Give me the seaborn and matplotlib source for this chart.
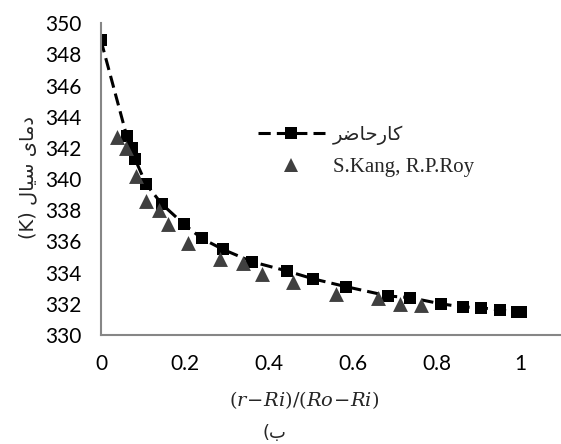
import pandas as pd
import seaborn as sns
import matplotlib
matplotlib.use("Agg")
import matplotlib.pyplot as plt
from matplotlib.lines import Line2D
from matplotlib.ticker import MultipleLocator

# present work (squares + dashed curve)
x_present = [0.0, 0.061, 0.073, 0.081, 0.107, 0.145, 0.198, 0.240, 0.290, 0.360,
             0.444, 0.506, 0.584, 0.685, 0.736, 0.810, 0.862, 0.905, 0.951, 0.990, 1.0]
t_present = [348.9, 342.8, 342.0, 341.3, 339.7, 338.4, 337.1, 336.2, 335.5, 334.7,
             334.1, 333.6, 333.1, 332.5, 332.4, 332.0, 331.8, 331.75, 331.6, 331.5, 331.5]

# S.Kang, R.P.Roy (triangles)
x_kang = [0.037, 0.059, 0.083, 0.107, 0.138, 0.160, 0.208, 0.284, 0.339, 0.383,
          0.458, 0.560, 0.659, 0.712, 0.762]
t_kang = [342.7, 342.0, 340.2, 338.6, 338.0, 337.1, 335.9, 334.9, 334.6, 333.9,
          333.4, 332.6, 332.4, 332.0, 331.9]

x_ticks = [0, 0.2, 0.4, 0.6, 0.8, 1.0]
x_ticklabels = ["0", "0.2", "0.4", "0.6", "0.8", "1"]
y_ticks = list(range(330, 351, 2))

# Persian labels written in visual order with Arabic presentation forms
label_present = "\ufeae\ufebf\ufe8e\ufea3\ufead\ufe8e\ufb90"          # کارحاضر
label_kang = "S.Kang, R.P.Roy"
ylabel_text = "(K) \ufedd\ufe8e\ufef4\ufeb3 \ufeef\ufe8e\ufee3\ufea9"  # دمای سیال (K)
caption_text = "(\ufe8f"                                            # ب)

df_present = pd.DataFrame({"x": x_present, "T": t_present})
df_kang = pd.DataFrame({"x": x_kang, "T": t_kang})

sns.set_style("white")
plt.rcParams["font.family"] = ["Lato", "DejaVu Sans"]
plt.rcParams["mathtext.fontset"] = "dejavuserif"

fig = plt.figure(figsize=(5.61, 4.44), dpi=100)
ax = fig.add_axes([0.180, 0.2455, 0.82, 0.702])

sns.lineplot(data=df_present, x="x", y="T", ax=ax, color="black", linewidth=2.2,
             linestyle=(0, (4, 2)), marker="s", markersize=8, markeredgewidth=0,
             sort=True, estimator=None, legend=False)
sns.scatterplot(data=df_kang, x="x", y="T", ax=ax, color="#404040", marker="^",
                s=115, linewidth=0, legend=False, zorder=3)

ax.set_xlim(0, 1.096)
ax.set_ylim(330, 350)
ax.set_xticks(x_ticks)
ax.set_xticklabels(x_ticklabels)
ax.set_yticks(y_ticks)
ax.xaxis.set_minor_locator(MultipleLocator(0.04))
ax.yaxis.set_minor_locator(MultipleLocator(0.4))

for side in ["top", "right"]:
    ax.spines[side].set_visible(False)
for side in ["left", "bottom"]:
    ax.spines[side].set_color("#868686")
    ax.spines[side].set_linewidth(1.5)

ax.tick_params(which="both", direction="in", color="#868686", width=1.3,
               labelsize=15, labelcolor="black")
ax.tick_params(which="major", length=6, pad=14)
ax.tick_params(which="minor", length=4)
ax.set_xlabel("")
ax.set_ylabel("")

fig.text(0.542, 0.1, r"$(r\!-\!Ri)/(Ro\!-\!Ri)$", fontsize=14, ha="center", va="center")
fig.text(0.05, 0.60, ylabel_text, rotation=90, fontsize=14, ha="center", va="center",
         family=["DejaVu Sans"])
fig.text(0.49, 0.025, caption_text, fontsize=13, ha="center", va="center",
         family=["DejaVu Sans"])

handles = [
    Line2D([], [], color="black", linewidth=2.2, linestyle=(0, (4, 2)),
           marker="s", markersize=8, markeredgewidth=0),
    Line2D([], [], color="#404040", linestyle="none", marker="^",
           markersize=10.5, markeredgewidth=0),
]
leg = ax.legend(handles, [label_present, label_kang], loc="center left",
                bbox_to_anchor=(0.46, 0.659), bbox_transform=fig.transFigure,
                frameon=False, fontsize=15, handlelength=3.2, handletextpad=0.4,
                labelspacing=0.6, borderpad=0, borderaxespad=0, numpoints=1)
leg.get_texts()[0].set_fontfamily(["DejaVu Sans"])
leg.get_texts()[0].set_fontsize(14)
leg.get_texts()[1].set_fontfamily(["Liberation Serif"])

fig.savefig("out.png", dpi=100)
